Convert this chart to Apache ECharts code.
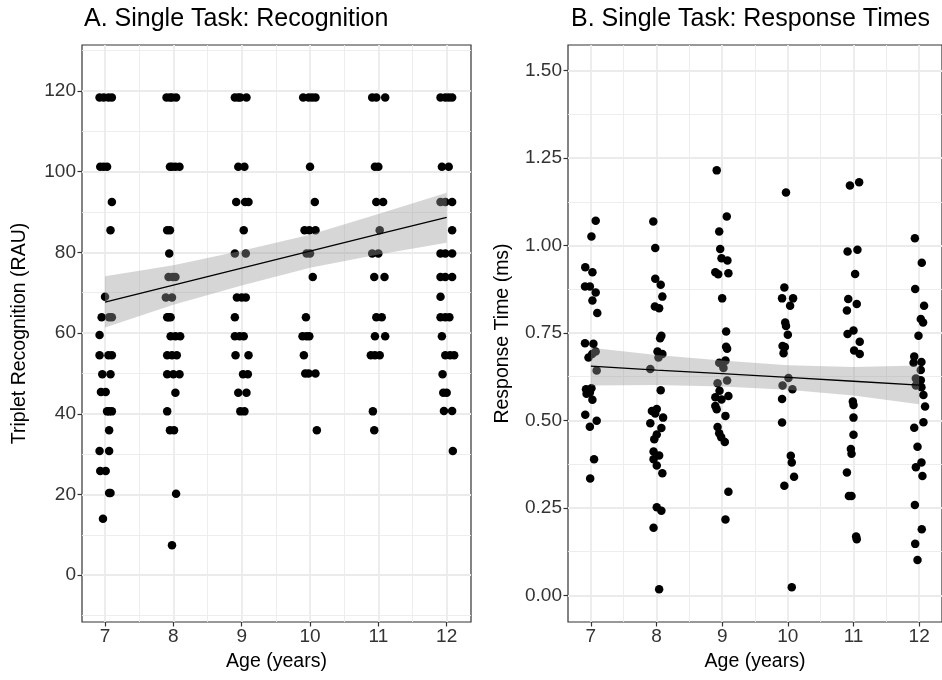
<!DOCTYPE html>
<html>
<head>
<meta charset="utf-8">
<script src="https://cdn.jsdelivr.net/npm/echarts@6/dist/echarts.min.js"></script>
<style>
  html, body { margin: 0; padding: 0; background: #fff; }
  #chart { width: 942px; height: 680px; }
</style>
</head>
<body>
<div id="chart"></div>
<script>
  // ---- data ----
  const ageTicks = [7, 8, 9, 10, 11, 12];
  const ageMinor = [7.5, 8.5, 9.5, 10.5, 11.5];
  const rauTicks = [0, 20, 40, 60, 80, 100, 120];
  const rauMinor = [-10, 10, 30, 50, 70, 90, 110, 130];
  const rtTicks = [0, 0.25, 0.5, 0.75, 1.0, 1.25, 1.5];
  const rtMinor = [0.125, 0.375, 0.625, 0.875, 1.125, 1.375];

  // A. recognition (RAU), jittered age
  const recogPoints = [
    [6.92,118.4],[6.98,118.4],[7.05,118.4],[7.10,118.4],
    [6.93,101.2],[6.98,101.2],[7.03,101.2],
    [7.10,92.5],[7.08,85.5],[7.00,69.0],
    [6.95,63.9],[7.06,63.9],[7.10,63.9],
    [6.92,59.5],
    [6.92,54.5],[7.05,54.5],[7.10,54.5],
    [6.96,49.8],[7.08,49.8],
    [6.94,45.4],[7.01,45.4],
    [7.03,40.6],[7.06,40.6],[7.10,40.6],
    [7.06,35.9],
    [6.92,30.8],[7.06,30.8],
    [6.93,25.8],[7.01,25.8],
    [7.06,20.4],[7.08,20.4],
    [6.97,14.0],

    [7.90,118.4],[7.95,118.4],[7.98,118.4],[8.04,118.4],
    [7.95,101.2],[7.98,101.2],[8.03,101.2],[8.09,101.2],
    [7.91,85.5],[7.95,85.5],
    [7.94,79.7],
    [7.93,73.9],[7.99,73.9],[8.03,73.9],
    [7.89,68.8],[7.98,68.8],
    [7.91,63.9],[7.93,63.9],[7.96,63.9],
    [7.96,59.2],[8.03,59.2],[8.10,59.2],
    [7.91,54.5],[7.98,54.5],[8.05,54.5],
    [7.91,49.8],[8.00,49.8],[8.09,49.8],
    [8.03,45.2],[7.91,40.6],
    [7.95,35.9],[8.01,35.9],
    [8.04,20.2],[7.98,7.4],

    [8.90,118.4],[8.95,118.4],[8.98,118.4],[9.07,118.4],
    [8.95,101.2],[9.04,101.2],
    [8.92,92.5],[9.05,92.5],[9.10,92.5],
    [9.03,85.5],
    [8.90,79.7],[9.06,79.7],
    [8.93,68.8],[9.00,68.8],[9.06,68.8],
    [8.90,63.9],
    [8.90,59.2],[8.97,59.2],[9.03,59.2],
    [8.91,54.5],[9.10,54.5],
    [9.02,49.8],[9.09,49.8],
    [8.95,45.2],[9.07,45.2],
    [8.98,40.6],[9.04,40.6],

    [9.90,118.4],[9.98,118.4],[10.03,118.4],[10.08,118.4],
    [10.00,101.2],[10.07,92.5],
    [9.92,85.5],[9.99,85.5],[10.08,85.5],
    [9.95,79.7],[10.00,79.7],
    [10.04,73.9],[9.94,63.9],
    [9.89,59.2],[9.95,59.2],[9.99,59.2],
    [9.91,54.5],
    [9.93,50.0],[9.98,50.0],[10.08,50.0],
    [10.10,35.9],

    [10.91,118.4],[10.97,118.4],[11.10,118.4],
    [10.95,101.2],[11.00,101.2],
    [10.97,92.5],[11.07,92.5],
    [11.02,85.5],
    [10.91,79.7],[11.00,79.7],
    [10.94,73.9],[11.09,73.9],
    [10.97,63.9],[11.05,63.9],
    [10.95,59.2],[11.10,59.2],
    [10.89,54.5],[10.95,54.5],[11.02,54.5],
    [10.92,40.6],[10.94,35.9],

    [11.91,118.4],[11.98,118.4],[12.03,118.4],[12.08,118.4],
    [11.93,101.2],[12.03,101.2],
    [11.91,92.5],[11.98,92.5],[12.08,92.5],
    [12.08,85.5],
    [11.91,79.7],[11.98,79.7],[12.08,79.7],
    [11.91,73.9],[11.98,73.9],[12.08,73.9],
    [11.91,69.0],
    [11.91,63.9],[11.98,63.9],[12.04,63.9],
    [11.93,59.2],
    [11.98,54.5],[12.05,54.5],[12.11,54.5],
    [11.94,49.8],
    [11.95,45.2],[12.00,45.2],
    [11.96,40.7],[12.08,40.7],
    [12.09,30.8],
  ];

  // B. response times, jittered age
  const rtPoints = [
    [7.074,1.071],[7.009,1.026],[6.915,0.938],[7.024,0.924],[6.911,0.883],
    [6.985,0.883],[7.074,0.866],[7.024,0.843],[7.098,0.807],[6.911,0.721],
    [7.039,0.719],[7.074,0.697],[7.020,0.690],[6.964,0.680],[7.089,0.643],
    [6.926,0.589],[7.009,0.592],[6.935,0.576],[6.985,0.580],[7.024,0.559],
    [6.915,0.516],[7.089,0.499],[6.985,0.482],[7.049,0.389],[6.990,0.334],

    [7.951,1.069],[7.981,0.993],[7.981,0.905],[8.064,0.888],[8.089,0.854],
    [7.975,0.826],[8.040,0.821],[8.074,0.742],[8.055,0.735],[8.015,0.697],
    [8.089,0.690],[8.030,0.680],[7.906,0.647],[8.064,0.586],[7.930,0.527],
    [8.004,0.533],[7.980,0.520],[8.100,0.508],[7.906,0.492],[8.074,0.478],
    [8.004,0.460],[7.966,0.446],[7.955,0.411],[8.040,0.400],[7.955,0.389],
    [8.004,0.371],[8.089,0.349],[8.004,0.252],[8.074,0.242],[7.955,0.193],
    [8.040,0.017],

    [8.917,1.215],[9.070,1.083],[8.955,1.040],[8.970,0.990],[8.990,0.964],
    [9.080,0.957],[8.896,0.924],[8.940,0.918],[9.095,0.921],[9.000,0.849],
    [9.060,0.754],[9.060,0.711],[9.075,0.705],[9.050,0.671],[8.955,0.665],
    [9.000,0.660],[9.020,0.650],[8.930,0.606],[9.075,0.614],[8.960,0.585],
    [8.896,0.566],[9.095,0.570],[8.990,0.560],[8.896,0.541],[8.917,0.532],
    [9.050,0.513],[8.930,0.481],[8.955,0.463],[8.985,0.452],[9.040,0.438],
    [9.095,0.296],[9.050,0.217],

    [9.972,1.152],[9.947,0.880],[9.912,0.849],[10.080,0.849],[10.035,0.828],
    [9.960,0.780],[9.972,0.770],[10.000,0.745],[9.920,0.713],[9.955,0.710],
    [9.935,0.692],[10.010,0.621],[9.920,0.600],[10.070,0.589],[9.912,0.561],
    [9.912,0.494],[10.045,0.399],[10.060,0.380],[10.095,0.339],[9.947,0.313],
    [10.060,0.023],

    [11.086,1.181],[10.946,1.172],[10.910,0.983],[11.060,0.988],[11.025,0.919],
    [10.920,0.847],[11.050,0.833],[10.900,0.814],[10.910,0.747],[11.000,0.757],
    [11.095,0.725],[11.010,0.700],[11.095,0.690],[10.990,0.554],[11.000,0.544],
    [11.000,0.508],[11.000,0.459],[10.960,0.418],[10.970,0.405],[10.900,0.351],
    [10.930,0.284],[10.970,0.284],[11.040,0.168],[11.050,0.160],

    [11.935,1.021],[12.040,0.951],[11.940,0.876],[12.075,0.828],[12.025,0.790],
    [12.060,0.780],[11.990,0.742],[11.925,0.683],[11.915,0.665],[12.035,0.667],
    [12.025,0.644],[11.950,0.620],[12.025,0.615],[11.950,0.600],[12.035,0.595],
    [12.065,0.573],[12.090,0.540],[12.065,0.495],[11.925,0.479],[11.975,0.425],
    [12.035,0.380],[11.950,0.366],[12.050,0.341],[11.935,0.258],[12.040,0.189],
    [11.940,0.147],[11.975,0.101],
  ];

  // linear fits with 95% band, read at each age
  const fitAges = [7, 8, 9, 10, 11, 12];
  const recogFit = [67.7, 71.9, 76.1, 80.3, 84.5, 88.7];
  const recogLow = [61.4, 67.0, 71.8, 76.2, 79.5, 82.4];
  const recogHigh = [74.1, 76.8, 80.4, 84.4, 89.5, 94.8];
  const rtFit = [0.655, 0.644, 0.634, 0.623, 0.612, 0.601];
  const rtLow = [0.600, 0.601, 0.597, 0.588, 0.571, 0.546];
  const rtHigh = [0.708, 0.687, 0.671, 0.658, 0.653, 0.657];

  // ---- styling ----
  const FONT = 'Liberation Sans, Arial, sans-serif';
  const GRID_COLOR = '#EBEBEB';
  const TICK_COLOR = '#333333';

  // panel grid lines (ggplot style major + minor)
  const gridLines = (idx, xMajor, xMinor, yMajor, yMinor, xr, yr) => {
    const lines = [];
    xMinor.forEach((v) => lines.push([{ coord: [v, yr[0]], lineStyle: { width: 0.9 } }, { coord: [v, yr[1]] }]));
    yMinor.forEach((v) => lines.push([{ coord: [xr[0], v], lineStyle: { width: 0.9 } }, { coord: [xr[1], v] }]));
    xMajor.forEach((v) => lines.push([{ coord: [v, yr[0]], lineStyle: { width: 1.8 } }, { coord: [v, yr[1]] }]));
    yMajor.forEach((v) => lines.push([{ coord: [xr[0], v], lineStyle: { width: 1.8 } }, { coord: [xr[1], v] }]));
    return {
      type: 'line',
      xAxisIndex: idx,
      yAxisIndex: idx,
      data: [],
      silent: true,
      z: 0,
      markLine: {
        z: 0,
        silent: true,
        symbol: ['none', 'none'],
        label: { show: false },
        animation: false,
        lineStyle: { color: GRID_COLOR, type: 'solid' },
        data: lines,
      },
    };
  };

  const bandSeries = (idx, low, high) => ({
    type: 'custom',
    xAxisIndex: idx,
    yAxisIndex: idx,
    data: [[fitAges[0], low[0]]],
    silent: true,
    z: 5,
    renderItem: (params, api) => {
      const pts = [];
      fitAges.forEach((a, i) => pts.push(api.coord([a, high[i]])));
      for (let i = fitAges.length - 1; i >= 0; i--) pts.push(api.coord([fitAges[i], low[i]]));
      return {
        type: 'polygon',
        shape: { points: pts },
        style: { fill: 'rgba(153,153,153,0.4)' },
      };
    },
  });

  const xRanges = [[6.663, 12.356], [6.652, 12.348]];
  const yRanges = [[-11.6, 131.4], [-0.0764, 1.5735]];

  const xAxisBase = (idx) => ({
    type: 'value',
    gridIndex: idx,
    min: xRanges[idx][0],
    max: xRanges[idx][1],
    name: 'Age (years)',
    nameLocation: 'middle',
    nameGap: 30,
    nameTextStyle: { color: '#000', fontSize: 19.5, fontFamily: FONT },
    axisLine: { show: false, onZero: false },
    splitLine: { show: false },
    axisTick: { show: true, length: 4.5, customValues: ageTicks, lineStyle: { color: TICK_COLOR, width: 1.2 } },
    axisLabel: { customValues: ageTicks, color: '#333', fontSize: 19, fontFamily: FONT, margin: 5 },
  });

  const yAxisBase = (idx, ticks, name, gap, fmt) => ({
    type: 'value',
    gridIndex: idx,
    min: yRanges[idx][0],
    max: yRanges[idx][1],
    name,
    nameLocation: 'middle',
    nameGap: gap,
    nameTextStyle: { color: '#000', fontSize: 19.5, fontFamily: FONT },
    axisLine: { show: false, onZero: false },
    splitLine: { show: false },
    axisTick: { show: true, length: 4.5, customValues: ticks, lineStyle: { color: TICK_COLOR, width: 1.2 } },
    axisLabel: { customValues: ticks, color: '#333', fontSize: 19, fontFamily: FONT, margin: 6, formatter: fmt },
  });

  const option = {
    animation: false,
    title: [
      { text: 'A. Single Task: Recognition', left: 79, top: 2, textStyle: { fontSize: 25, fontWeight: 'normal', color: '#000', fontFamily: FONT } },
      { text: 'B. Single Task: Response Times', left: 566, top: 2, textStyle: { fontSize: 25, fontWeight: 'normal', color: '#000', fontFamily: FONT } },
    ],
    grid: [
      { left: 82, top: 45, width: 389, height: 577, show: true, borderColor: '#333', borderWidth: 1.2, backgroundColor: '#fff' },
      { left: 568, top: 45, width: 384, height: 577, show: true, borderColor: '#333', borderWidth: 1.2, backgroundColor: '#fff' },
    ],
    xAxis: [xAxisBase(0), xAxisBase(1)],
    yAxis: [
      yAxisBase(0, rauTicks, 'Triplet Recognition (RAU)', 52, (v) => String(v)),
      yAxisBase(1, rtTicks, 'Response Time (ms)', 55, (v) => v.toFixed(2)),
    ],
    series: [
      gridLines(0, ageTicks, ageMinor, rauTicks, rauMinor, xRanges[0], yRanges[0]),
      gridLines(1, ageTicks, ageMinor, rtTicks, rtMinor, xRanges[1], yRanges[1]),
      {
        type: 'scatter', xAxisIndex: 0, yAxisIndex: 0, data: recogPoints,
        symbolSize: 8.5, itemStyle: { color: '#000', opacity: 1 }, z: 3,
      },
      {
        type: 'scatter', xAxisIndex: 1, yAxisIndex: 1, data: rtPoints,
        symbolSize: 8.5, itemStyle: { color: '#000', opacity: 1 }, z: 3,
      },
      bandSeries(0, recogLow, recogHigh),
      bandSeries(1, rtLow, rtHigh),
      {
        type: 'line', xAxisIndex: 0, yAxisIndex: 0, symbol: 'none', z: 6,
        data: fitAges.map((a, i) => [a, recogFit[i]]),
        lineStyle: { color: '#000', width: 1.3 },
      },
      {
        type: 'line', xAxisIndex: 1, yAxisIndex: 1, symbol: 'none', z: 6,
        data: fitAges.map((a, i) => [a, rtFit[i]]),
        lineStyle: { color: '#000', width: 1.3 },
      },
    ],
  };

  const chart = echarts.init(document.getElementById('chart'), null, { renderer: 'canvas' });
  chart.setOption(option);
</script>
</body>
</html>
